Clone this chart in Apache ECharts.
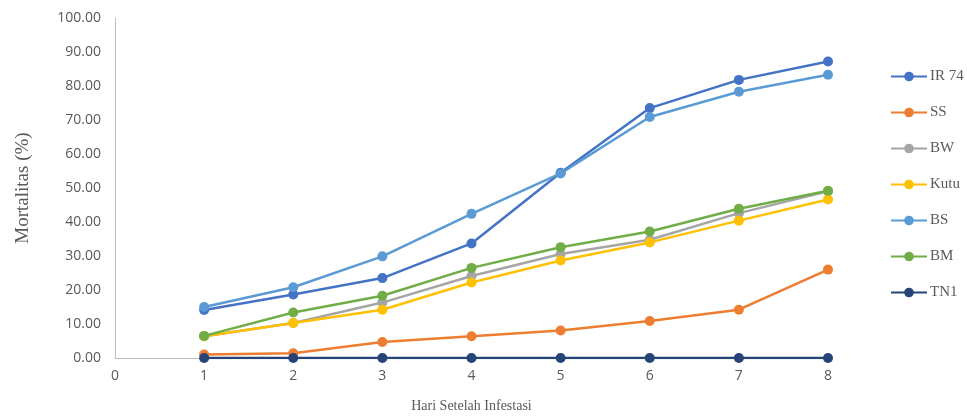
<!DOCTYPE html>
<html>
<head>
<meta charset="utf-8">
<style>
  html, body { margin: 0; padding: 0; background: #ffffff; overflow: hidden; }
  #chart { width: 967px; height: 418px; }
</style>
<script src="https://cdn.jsdelivr.net/npm/echarts@6/dist/echarts.min.js"></script>
</head>
<body>
<div id="chart"></div>
<script>
// Days after infestation
const days = [1, 2, 3, 4, 5, 6, 7, 8];

// Mortality (%) per variety
const ir74 = [14.1, 18.7, 23.5, 33.7, 54.5, 73.5, 81.8, 87.2];
const ss   = [1.0, 1.4, 4.7, 6.4, 8.1, 10.9, 14.2, 26.0];
const bw   = [6.4, 10.3, 16.3, 24.1, 30.6, 34.8, 42.6, 49.0];
const kutu = [6.4, 10.3, 14.2, 22.2, 28.7, 34.0, 40.4, 46.6];
const bs   = [15.0, 20.8, 29.9, 42.4, 54.3, 70.9, 78.3, 83.3];
const bm   = [6.5, 13.4, 18.3, 26.5, 32.6, 37.2, 43.9, 49.2];
const tn1  = [0, 0, 0, 0, 0, 0, 0, 0];

const seriesDefs = [
  { name: 'IR 74', values: ir74, color: '#4472C4' },
  { name: 'SS',    values: ss,   color: '#ED7D31' },
  { name: 'BW',    values: bw,   color: '#A5A5A5' },
  { name: 'Kutu',  values: kutu, color: '#FFC000' },
  { name: 'BS',    values: bs,   color: '#5B9BD5' },
  { name: 'BM',    values: bm,   color: '#70AD47' },
  { name: 'TN1',   values: tn1,  color: '#264478' }
];

const serif = '"Liberation Serif", "Times New Roman", serif';
const sans = '"Open Sans", "Liberation Sans", sans-serif';

const chart = echarts.init(document.getElementById('chart'), null, { width: 967, height: 418 });
chart.setOption({
  animation: false,
  backgroundColor: '#ffffff',
  grid: { left: 115, top: 18, width: 713, height: 343, containLabel: false },
  legend: {
    orient: 'vertical',
    left: 890,
    top: 69,
    padding: 0,
    itemWidth: 36,
    itemHeight: 12,
    itemGap: 21,
    textStyle: { fontFamily: serif, fontSize: 15, color: '#595959', padding: [0, 0, 0, -2] },
    data: seriesDefs.map(s => s.name)
  },
  xAxis: {
    type: 'value',
    min: 0, max: 8, interval: 1,
    name: 'Hari Setelah Infestasi',
    nameLocation: 'middle',
    nameGap: 41,
    nameTextStyle: { fontFamily: serif, fontSize: 14, color: '#595959' },
    axisLine: { show: true, lineStyle: { color: '#BFBFBF', width: 1 } },
    axisTick: { show: false },
    splitLine: { show: false },
    axisLabel: { fontFamily: sans, fontSize: 14, color: '#595959', margin: 11 }
  },
  yAxis: {
    type: 'value',
    min: 0, max: 100, interval: 10,
    name: 'Mortalitas (%)',
    nameLocation: 'middle',
    nameRotate: 90,
    nameGap: 82,
    nameTextStyle: { fontFamily: serif, fontSize: 19, color: '#595959' },
    axisLine: { show: true, lineStyle: { color: '#BFBFBF', width: 1 } },
    axisTick: { show: false },
    splitLine: { show: false },
    axisLabel: {
      fontFamily: sans, fontSize: 14, color: '#595959', margin: 14,
      formatter: v => v.toFixed(2)
    }
  },
  series: seriesDefs.map(s => ({
    name: s.name,
    type: 'line',
    data: days.map((d, i) => [d, s.values[i]]),
    symbol: 'circle',
    symbolSize: 10,
    showAllSymbol: true,
    lineStyle: { color: s.color, width: 2.5 },
    itemStyle: { color: s.color },
    emphasis: { disabled: true }
  }))
});
</script>
</body>
</html>
